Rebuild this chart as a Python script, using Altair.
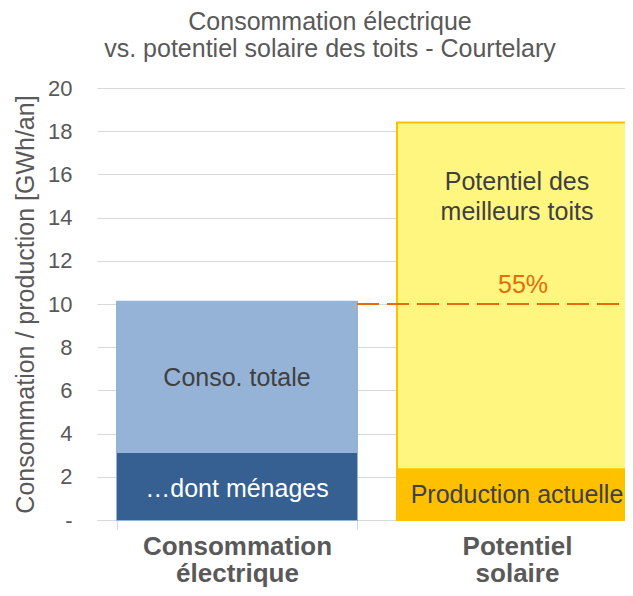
import altair as alt
import pandas as pd

FONT = "Liberation Sans"

# ---- data ----
categories = ["Consommation électrique", "Potentiel solaire"]
total_names = ["Conso. totale", "Potentiel des meilleurs toits"]
total_values = [10.1, 18.4]
part_names = ["…dont ménages", "Production actuelle"]
part_values = [3.1, 2.4]
reference_value = [10.0]
ratio_text = ["55%"]
ratio_y = [10.86]
y_ticks = [0, 2, 4, 6, 8, 10, 12, 14, 16, 18, 20]

label_texts = ["Conso. totale", "…dont ménages", "Potentiel des\nmeilleurs toits", "Production actuelle"]
label_cats = [categories[0], categories[0], categories[1], categories[1]]
label_y = [6.57, 1.42, 15.67, 1.18]
label_kind = ["dark", "light", "dark", "dark"]

series_names = total_names + part_names
series_fill = ["#95B3D7", "#FFF67F", "#366092", "#FFC000"]
series_stroke = ["#95B3D7", "#FFC000", "#366092", "#FFC000"]

totals_df = pd.DataFrame({"cat": categories, "serie": total_names, "v": total_values})
parts_df = pd.DataFrame({"cat": categories, "serie": part_names, "v": part_values})
rule_df = pd.DataFrame({"cat": [categories[0]], "v": reference_value})
ratio_df = pd.DataFrame({"cat": [categories[1]], "v": ratio_y, "t": ratio_text})
labels_df = pd.DataFrame({"cat": label_cats, "v": label_y, "t": label_texts, "k": label_kind})

PLOT_W = 528
xscale = alt.Scale(domain=categories, range=[0, 560], paddingInner=1 / 7, paddingOuter=1 / 14)
yscale = alt.Scale(domain=[0, 20], nice=False)

xaxis = alt.Axis(
    title=None,
    labelExpr="split(datum.label, ' ')",
    labelFont=FONT,
    labelFontSize=26,
    labelFontWeight="bold",
    labelColor="#595959",
    labelLineHeight=27,
    labelAngle=0,
    labelLimit=500,
    labelOverlap=False,
    labelPadding=4,
    tickBand="extent",
    tickSize=9,
    tickColor="#D9D9D9",
    domainColor="#D9D9D9",
    grid=False,
)
yaxis = alt.Axis(
    values=y_ticks,
    labelExpr="datum.value == 0 ? '-\u00a0\u00a0' : datum.label",
    domain=False,
    ticks=False,
    tickSize=0,
    grid=True,
    gridColor="#D9D9D9",
    labelFont=FONT,
    labelFontSize=22,
    labelColor="#595959",
    labelPadding=25,
    title="Consommation / production [GWh/an]",
    titleFont=FONT,
    titleFontSize=25,
    titleFontWeight="normal",
    titleColor="#595959",
    titlePadding=9,
)

X = alt.X("cat:N", scale=xscale, axis=xaxis)
fill_enc = alt.Color("serie:N", scale=alt.Scale(domain=series_names, range=series_fill), legend=None)
stroke_enc = alt.Stroke("serie:N", scale=alt.Scale(domain=series_names, range=series_stroke), legend=None)

totals = alt.Chart(totals_df).mark_bar(strokeWidth=2).encode(
    x=X,
    y=alt.Y("v:Q", scale=yscale, axis=yaxis),
    color=fill_enc,
    stroke=stroke_enc,
)
parts = alt.Chart(parts_df).mark_bar(strokeWidth=0).encode(
    x=X,
    y=alt.Y("v:Q", scale=yscale),
    color=fill_enc,
)
rule = alt.Chart(rule_df).mark_rule(color="#E46C0A", strokeWidth=2, strokeDash=[22, 8]).encode(
    x=alt.X("cat:N", scale=xscale, bandPosition=1),
    x2=alt.value(PLOT_W),
    y=alt.Y("v:Q", scale=yscale),
)
ratio = alt.Chart(ratio_df).mark_text(font=FONT, fontSize=25, color="#E46C0A", dx=6).encode(
    x=alt.X("cat:N", scale=xscale),
    y=alt.Y("v:Q", scale=yscale),
    text="t:N",
)
labels = alt.Chart(labels_df).mark_text(font=FONT, fontSize=25, lineBreak="\n", lineHeight=30).encode(
    x=alt.X("cat:N", scale=xscale),
    y=alt.Y("v:Q", scale=yscale),
    text="t:N",
    color=alt.Color("k:N", scale=alt.Scale(domain=["dark", "light"], range=["#404040", "#FFFFFF"]), legend=None),
)

chart = (
    alt.layer(totals, parts, rule, ratio, labels)
    .resolve_scale(color="independent")
    .properties(
        width=PLOT_W,
        height=432,
        autosize=alt.AutoSizeParams(type="none"),
        padding={"left": 89, "top": 80, "right": 0, "bottom": 68},
        title=alt.TitleParams(
            text=["Consommation électrique", "vs. potentiel solaire des toits - Courtelary"],
            font=FONT,
            fontSize=25,
            fontWeight="normal",
            color="#595959",
            lineHeight=27,
            anchor="middle",
            dx=-31,
            offset=15,
        ),
    )
    .configure_view(stroke=None)
)

chart.save("out.html", embed_options={"renderer": "svg", "actions": False})
